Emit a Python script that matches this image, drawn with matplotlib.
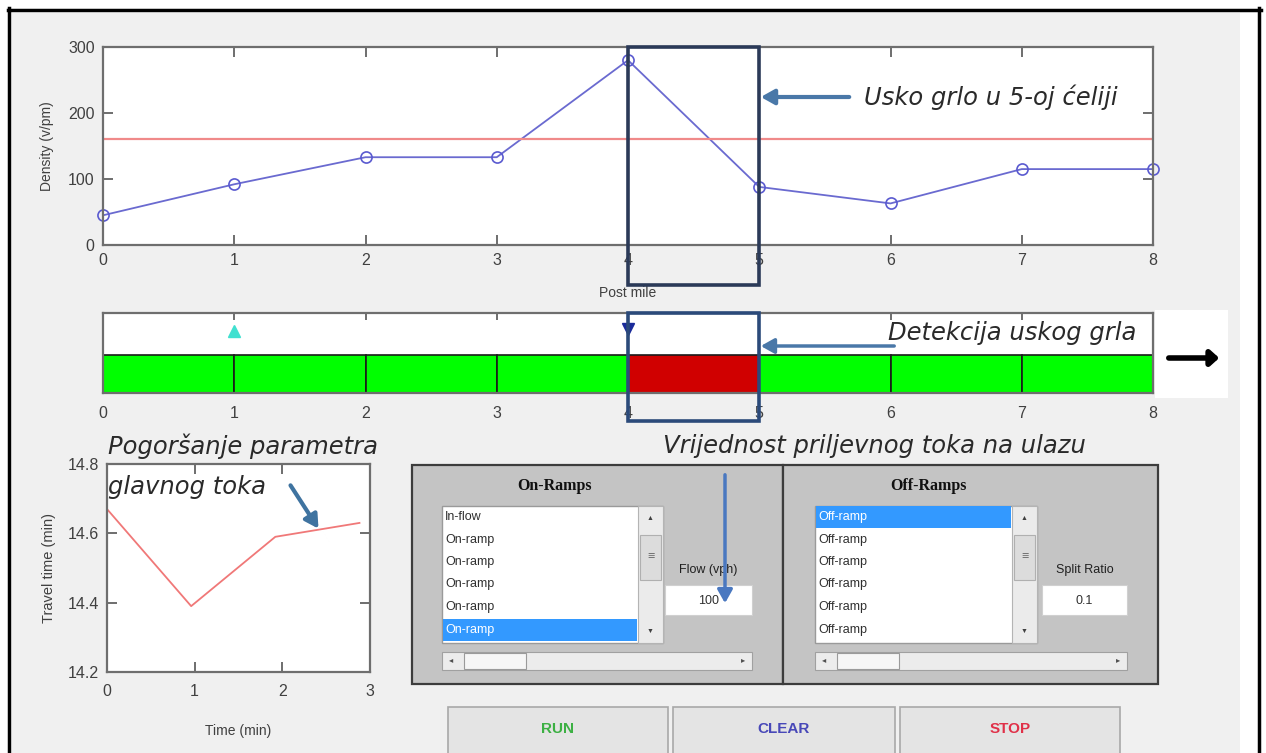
import numpy as np
import matplotlib.pyplot as plt
from matplotlib.patches import Rectangle
import matplotlib.transforms as mtransforms

plt.rcParams['font.family'] = ['Liberation Sans', 'DejaVu Sans']

# data
post_mile = [0, 1, 2, 3, 4, 5, 6, 7, 8]
density = [45, 92, 133, 133, 280, 88, 63, 115, 115]
critical_density = 160
cells = [0, 1, 2, 3, 4, 5, 6, 7]
congested = [0, 0, 0, 0, 1, 0, 0, 0]
onramp_det = [1]
offramp_det = [4]
bottleneck = 4
time_min = [0, 0.96, 1.92, 2.4, 2.88]
travel_time = [14.67, 14.39, 14.59, 14.61, 14.63]
onramp_items = ['In-flow', 'On-ramp', 'On-ramp', 'On-ramp', 'On-ramp', 'On-ramp']
offramp_items = ['Off-ramp'] * 6
flow_value = '100'
split_ratio = '0.1'
buttons = ['RUN', 'CLEAR', 'STOP']

W, H = 1266, 753
def box(x0, y0, x1, y1):
    return [x0 / W, 1 - y1 / H, (x1 - x0) / W, (y1 - y0) / H]

fig = plt.figure(figsize=(W / 100, H / 100), dpi=100)
fig.patch.set_facecolor('white')

# background / gui layer
gui = fig.add_axes([0, 0, 1, 1], zorder=0)
gui.set_xlim(0, W)
gui.set_ylim(H, 0)
gui.axis('off')
gui.add_patch(Rectangle((12, 13), 1228, 740, fc='#f0f0f0', ec='none'))
gui.plot([8, 1261], [10, 10], color='black', lw=2.5)
gui.plot([9, 9], [8, 753], color='black', lw=2.5)
gui.plot([1259, 1259], [8, 753], color='black', lw=2.5)
gui.add_patch(Rectangle((1155, 310), 73, 88, fc='white', ec='none'))

tick_col = '#404040'
spine_col = '#6e6e6e'

def matlab_axes(ax):
    for s in ax.spines.values():
        s.set_color(spine_col)
        s.set_linewidth(1.6)
    ax.tick_params(direction='in', top=True, right=True, length=7, width=1.2,
                   color='#555555', labelcolor=tick_col, labelsize=11.5, pad=6)

# density plot
ax1 = fig.add_axes(box(103, 47, 1153, 245), zorder=2)
ax1.plot(post_mile, density, color='#6a6ad0', lw=1.3, marker='o', ms=8,
         mfc='none', mec='#5a5ad0', mew=1.2, clip_on=False)
ax1.axhline(critical_density, color='#f08a8a', lw=1.6)
ax1.set_xlim(0, 8)
ax1.set_ylim(0, 300)
ax1.set_xticks(post_mile)
ax1.set_yticks([0, 100, 200, 300])
matlab_axes(ax1)
ax1.set_ylabel('Density (v/pm)', fontsize=10, color=tick_col, labelpad=10)
ax1.set_xlabel('Post mile', fontsize=10, color=tick_col, labelpad=13)
tr1 = mtransforms.blended_transform_factory(ax1.transData, ax1.transAxes)
ax1.add_patch(Rectangle((bottleneck, -0.2), 1, 1.2, transform=tr1, fill=False,
                        ec='#2b3a58', lw=2.6, clip_on=False, zorder=10))

# cell strip
ax2 = fig.add_axes(box(103, 313, 1153, 393), zorder=2)
ax2.bar(cells, [0.48] * len(cells), width=1, align='edge',
        color=['#d00000' if c else '#00ff00' for c in congested],
        edgecolor='#1a1a1a', lw=1.2)
ax2.plot(onramp_det, [0.78], marker='^', ms=9, color='#40e0d0', ls='none')
ax2.plot(offramp_det, [0.8], marker='v', ms=8, color='#1a2a9a', ls='none')
ax2.set_xlim(0, 8)
ax2.set_ylim(0, 1)
ax2.set_xticks(post_mile)
ax2.set_yticks([])
matlab_axes(ax2)
ax2.tick_params(bottom=False, length=5, pad=9)
tr2 = mtransforms.blended_transform_factory(ax2.transData, ax2.transAxes)
ax2.add_patch(Rectangle((bottleneck, -0.35), 1, 1.35, transform=tr2, fill=False,
                        ec='#2b4a7a', lw=2.6, clip_on=False, zorder=10))

# travel time plot
ax3 = fig.add_axes(box(107, 464, 370, 672), zorder=2)
ax3.plot(time_min, travel_time, color='#f07878', lw=1.3)
ax3.set_xlim(0, 3)
ax3.set_ylim(14.2, 14.8)
ax3.set_xticks([0, 1, 2, 3])
ax3.set_yticks([14.2, 14.4, 14.6, 14.8])
matlab_axes(ax3)
ax3.tick_params(axis='x', pad=9)
ax3.set_xlabel('Time (min)', fontsize=10, color=tick_col, labelpad=18)
ax3.set_ylabel('Travel time (min)', fontsize=10.5, color=tick_col, labelpad=8)

# ramp panels
def panel(x0, x1, title, items, sel, label, value, lb_x0, lb_x1, sb_x, edit_x0, edit_x1):
    gui.add_patch(Rectangle((x0, 465), x1 - x0, 219, fc='#c4c4c4', ec='#3c3c3c', lw=1.6))
    gui.text(lb_x0 + 113, 486, title, ha='center', va='center',
             fontsize=11.5, fontweight='bold', family='Liberation Serif', color='#111111')
    lb = Rectangle((lb_x0, 506), lb_x1 - lb_x0, 137, fc='white', ec='#9a9a9a', lw=1)
    gui.add_patch(lb)
    for i, it in enumerate(items):
        y = 517 + 22.5 * i
        col = '#303030'
        if i == sel:
            gui.add_patch(Rectangle((lb_x0 + 1, y - 11), sb_x - lb_x0 - 2, 22,
                                    fc='#3399ff', ec='none'))
            col = 'white'
        t = gui.text(lb_x0 + 3, y, it, ha='left', va='center', fontsize=9, color=col)
        t.set_clip_path(lb)
    gui.add_patch(Rectangle((sb_x, 506), lb_x1 - sb_x, 137, fc='#ebebeb', ec='#b4b4b4', lw=0.8))
    gui.add_patch(Rectangle((sb_x + 2, 535), lb_x1 - sb_x - 4, 45, fc='#dcdcdc', ec='#b0b0b0', lw=0.8))
    gui.text((sb_x + lb_x1) / 2, 557, '≡', ha='center', va='center', fontsize=9, color='#707070')
    gui.text((sb_x + lb_x1) / 2, 518, '▲', ha='center', va='center', fontsize=5, color='#404040')
    gui.text((sb_x + lb_x1) / 2, 631, '▼', ha='center', va='center', fontsize=5, color='#404040')
    gui.add_patch(Rectangle((lb_x0, 652), edit_x1 - lb_x0, 18, fc='#ececec', ec='#a0a0a0', lw=0.8))
    gui.add_patch(Rectangle((lb_x0 + 22, 653), 62, 16, fc='#f6f6f6', ec='#9a9a9a', lw=0.8))
    gui.text(lb_x0 + 9, 661, '◂', ha='center', va='center', fontsize=6, color='#505050')
    gui.text(edit_x1 - 9, 661, '▸', ha='center', va='center', fontsize=6, color='#505050')
    gui.text((edit_x0 + edit_x1) / 2, 570, label, ha='center', va='center', fontsize=9, color='#202020')
    gui.add_patch(Rectangle((edit_x0, 585), edit_x1 - edit_x0, 30, fc='white', ec='#d0d0d0', lw=0.8))
    gui.text((edit_x0 + edit_x1) / 2, 601, value, ha='center', va='center', fontsize=9, color='#303030')

panel(412, 783, 'On-Ramps', onramp_items, 5, 'Flow (vph)', flow_value, 442, 663, 638, 665, 752)
panel(783, 1158, 'Off-Ramps', offramp_items, 0, 'Split Ratio', split_ratio, 815, 1037, 1012, 1042, 1127)

# buttons
btn_x = [(448, 668), (673, 895), (900, 1120)]
btn_col = ['#3cb043', '#4848b8', '#e03048']
for (bx0, bx1), name, c in zip(btn_x, buttons, btn_col):
    gui.add_patch(Rectangle((bx0, 707), bx1 - bx0, 50, fc='#e4e4e4', ec='#a8a8a8', lw=1.2))
    gui.text((bx0 + bx1) / 2, 729, name, ha='center', va='center', fontsize=11,
             fontweight='bold', color=c)

# annotation layer
ann = fig.add_axes([0, 0, 1, 1], zorder=20)
ann.set_xlim(0, W)
ann.set_ylim(H, 0)
ann.axis('off')
ann.patch.set_alpha(0)
ita = dict(fontsize=17.5, style='oblique', family=['DejaVu Sans'], color='#2a2a2a',
           ha='left', va='center')
ann.annotate('', xy=(758, 97), xytext=(852, 97),
             arrowprops=dict(arrowstyle='-|>,head_length=0.8,head_width=0.45', color='#4a78a8', lw=3))
ann.text(864, 97, 'Usko grlo u 5-oj ćeliji', **ita)
ann.annotate('', xy=(758, 346), xytext=(897, 346),
             arrowprops=dict(arrowstyle='-|>,head_length=0.8,head_width=0.45', color='#4a78a8', lw=2.5))
ann.text(888, 333, 'Detekcija uskog grla', **ita)
ann.annotate('', xy=(1222, 358), xytext=(1166, 358),
             arrowprops=dict(arrowstyle='-|>,head_length=0.5,head_width=0.45', color='black', lw=4))
ann.text(108, 446, 'Pogoršanje parametra', **ita)
ann.text(108, 487, 'glavnog toka', **ita)
ann.annotate('', xy=(320, 531), xytext=(289, 483),
             arrowprops=dict(arrowstyle='-|>,head_length=0.8,head_width=0.45', color='#3f73a0', lw=3))
ann.text(663, 446, 'Vrijednost priljevnog toka na ulazu', **ita)
ann.annotate('', xy=(725, 606), xytext=(725, 472),
             arrowprops=dict(arrowstyle='-|>,head_length=0.8,head_width=0.45', color='#4a78c0', lw=2.5))

fig.savefig('out.png', dpi=100)
